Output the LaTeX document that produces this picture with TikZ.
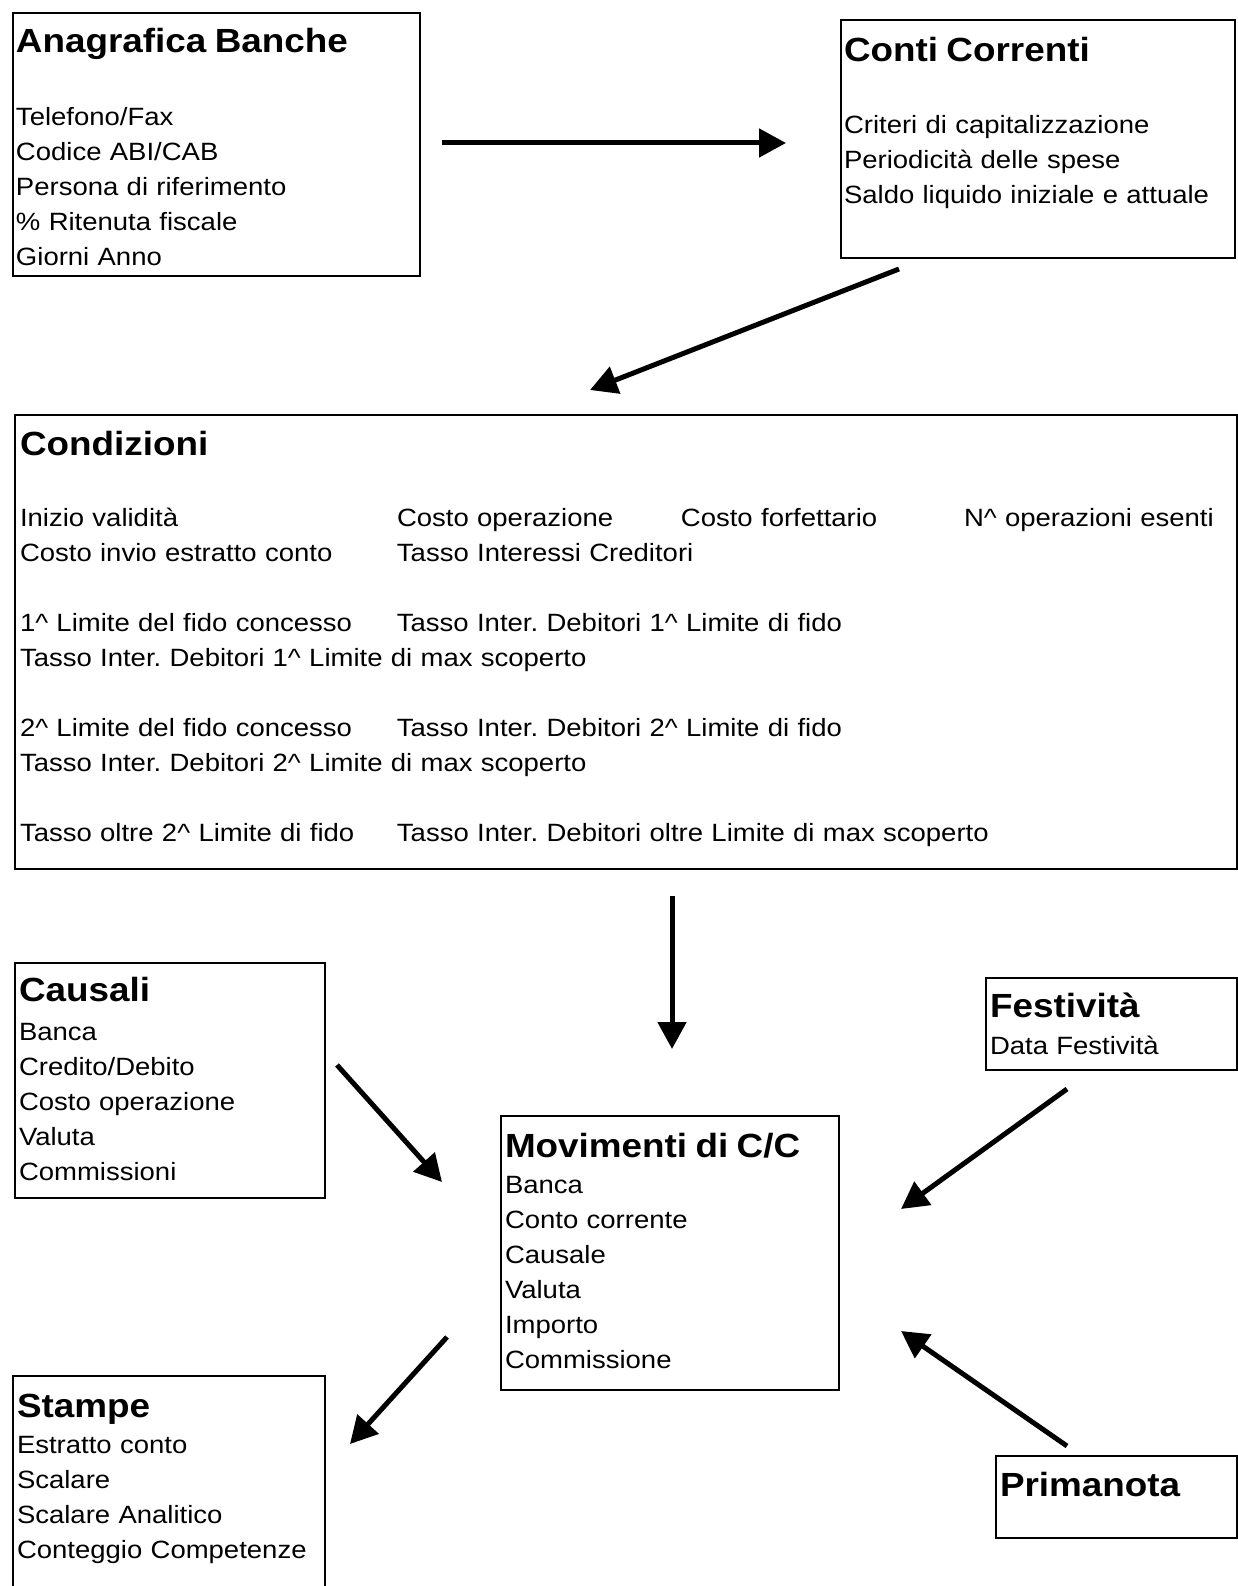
\documentclass[tikz,border=0pt]{standalone}
\usepackage{fontspec}
\setmainfont{Liberation Sans}[FakeStretch=1.1]
\usetikzlibrary{arrows.meta}
\frenchspacing

\newcommand{\ttl}[1]{{\fontsize{33.5}{35}\selectfont\bfseries #1}}
\newcommand{\col}[2]{\makebox[#1][l]{#2}}

\begin{document}
\begin{tikzpicture}[x=1pt, y=-1pt, line width=2pt]
  \tikzstyle{box}=[draw, anchor=north west, inner sep=0pt]
  \tikzstyle{arr}=[-{Triangle[length=27pt,width=28pt]}, line width=5pt]
  \tikzset{txt/.style={anchor=base west, inner sep=0pt, text width=#1, align=left,
      font=\fontsize{25}{35}\selectfont}}

  \useasboundingbox (0,0) rectangle (1238,1586);

  % boxes
  \node[box, minimum width=407pt, minimum height=263pt] (ana) at (12,12) {};
  \node[box, minimum width=394pt, minimum height=238pt] (conti) at (840,19) {};
  \node[box, minimum width=1222pt, minimum height=454pt] (cond) at (14,414) {};
  \node[box, minimum width=310pt, minimum height=235pt] (caus) at (14,962) {};
  \node[box, minimum width=338pt, minimum height=274pt] (mov) at (500,1115) {};
  \node[box, minimum width=251pt, minimum height=92pt] (fest) at (985,977) {};
  \node[box, minimum width=241pt, minimum height=82pt] (prima) at (995,1455) {};
  \node[box, minimum width=312pt, minimum height=240pt] (stampe) at (12,1375) {};

  % texts
  \node[txt=400pt] (ana-t) at (15,53) {\ttl{Anagrafica Banche}\\[38pt]
    Telefono/Fax\\ Codice ABI/CAB\\ Persona di riferimento\\
    \% Ritenuta fiscale\\ Giorni Anno};
  \node[txt=390pt] (conti-t) at (843,62) {\ttl{Conti Correnti}\\[37pt]
    Criteri di capitalizzazione\\ Periodicità delle spese\\
    Saldo liquido iniziale e attuale};
  \node[txt=1215pt] (cond-t) at (19,455) {\ttl{Condizioni}\\[36pt]
    \col{377pt}{Inizio validità}\col{284pt}{Costo operazione}\col{283pt}{Costo forfettario}N\textasciicircum{} operazioni esenti\\
    \col{377pt}{Costo invio estratto conto}Tasso Interessi Creditori\\[35pt]
    \col{377pt}{1\textasciicircum{} Limite del fido concesso}Tasso Inter. Debitori 1\textasciicircum{} Limite di fido\\
    Tasso Inter. Debitori 1\textasciicircum{} Limite di max scoperto\\[35pt]
    \col{377pt}{2\textasciicircum{} Limite del fido concesso}Tasso Inter. Debitori 2\textasciicircum{} Limite di fido\\
    Tasso Inter. Debitori 2\textasciicircum{} Limite di max scoperto\\[35pt]
    \col{377pt}{Tasso oltre 2\textasciicircum{} Limite di fido}Tasso Inter. Debitori oltre Limite di max scoperto};
  \node[txt=300pt] (caus-t) at (18,1001) {\ttl{Causali}\\[4pt]
    Banca\\ Credito/Debito\\ Costo operazione\\ Valuta\\ Commissioni};
  \node[txt=330pt] (mov-t) at (504,1157) {\ttl{Movimenti di C/C}\\[1.5pt]
    Banca\\ Conto corrente\\ Causale\\ Valuta\\ Importo\\ Commissione};
  \node[txt=245pt] (fest-t) at (989,1017) {\ttl{Festività}\\[2pt]
    Data Festività};
  \node[txt=235pt] (prima-t) at (999,1496) {\ttl{Primanota}};
  \node[txt=300pt] (stampe-t) at (16,1417) {\ttl{Stampe}\\[1.5pt]
    Estratto conto\\ Scalare\\ Scalare Analitico\\ Conteggio Competenze};

  % arrow ends
  \coordinate (a1s) at (442,143);  \coordinate (a1e) at (786,143);
  \coordinate (a2s) at (899,269);  \coordinate (a2e) at (590,390);
  \coordinate (a3s) at (672,896);  \coordinate (a3e) at (672,1049);
  \coordinate (a4s) at (337,1065); \coordinate (a4e) at (442,1182);
  \coordinate (a5s) at (1067,1089); \coordinate (a5e) at (901,1209);
  \coordinate (a6s) at (1067,1446); \coordinate (a6e) at (901,1331);
  \coordinate (a7s) at (447,1337); \coordinate (a7e) at (350,1444);

  \draw[arr] (a1s) -- (a1e);
  \draw[arr] (a2s) -- (a2e);
  \draw[arr] (a3s) -- (a3e);
  \draw[arr] (a4s) -- (a4e);
  \draw[arr] (a5s) -- (a5e);
  \draw[arr] (a6s) -- (a6e);
  \draw[arr] (a7s) -- (a7e);

\end{tikzpicture}
\end{document}
